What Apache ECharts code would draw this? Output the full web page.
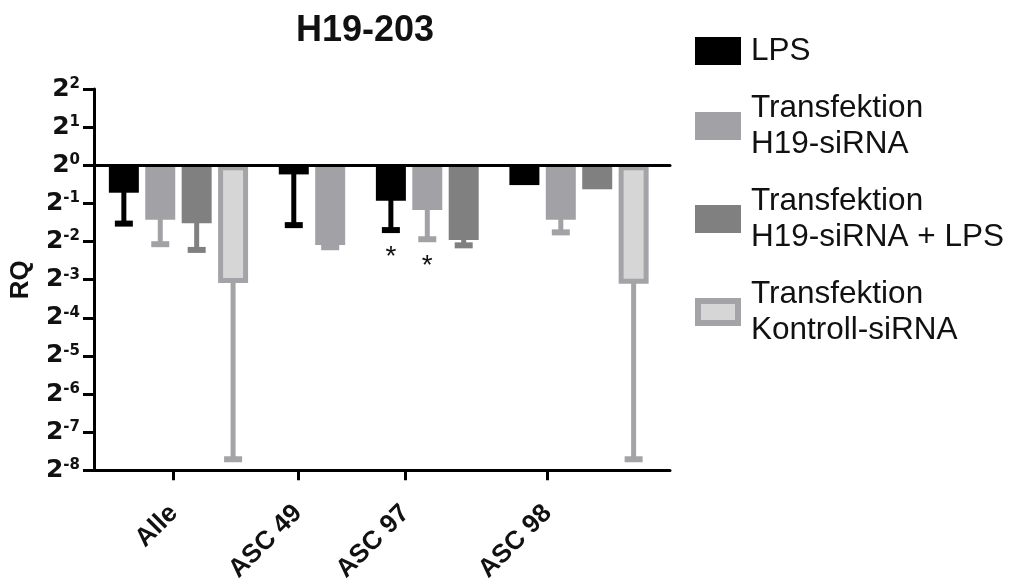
<!DOCTYPE html>
<html><head><meta charset="utf-8">
<script src="https://cdn.jsdelivr.net/npm/echarts@6/dist/echarts.min.js"></script>
<style>html,body{margin:0;padding:0;background:#fff}#c{width:1009px;height:585px}</style>
</head><body><div id="c"></div>
<script>
// ---------- DATA (log2 of RQ) ----------
const categories = ['Alle', 'ASC 49', 'ASC 97', 'ASC 98'];
const seriesNames = ['LPS', 'Transfektion\nH19-siRNA', 'Transfektion\nH19-siRNA + LPS', 'Transfektion\nKontroll-siRNA'];
const lps         = [-0.72, -0.24, -0.93, -0.52];
const h19         = [-1.43, -2.09, -1.17, -1.43];
const h19lps      = [-1.52, null, -1.96, -0.63];
const kontroll    = [-3.09, null, null, -3.11];
// downward error (log2 units)
const lpsErr      = [0.81, 1.33, 0.77, 0];
const h19Err      = [0.64, 0.06, 0.77, 0.33];
const h19lpsErr   = [0.70, null, 0.14, 0];
const kontrollErr = [4.62, null, null, 4.60];
// significance (*)
const lpsSig      = [0, 0, 1, 0];
const h19Sig      = [0, 0, 1, 0];
const h19lpsSig   = [0, 0, 0, 0];
const kontrollSig = [0, 0, 0, 0];
const yTickExponents = [2, 1, 0, -1, -2, -3, -4, -5, -6, -7, -8];

// ---------- LAYOUT / STYLE ----------
const values = [lps, h19, h19lps, kontroll];
const errors = [lpsErr, h19Err, h19lpsErr, kontrollErr];
const sigs = [lpsSig, h19Sig, h19lpsSig, kontrollSig];
const styles = [
  { fill: '#000000', err: '#000000' },
  { fill: '#a2a2a6', err: '#a2a2a6' },
  { fill: '#808080', err: '#808080' },
  { fill: '#d6d6d6', err: '#a4a4a8', stroke: '#a4a4a8', border: 5 }
];
const GROUP_GAP = 0.667;      // extra slot space between groups
const X_MIN = -0.82, X_MAX = 15.0;
const LABEL_POS = [1.37, 4.78, 7.73, 11.64];
const BAR_W = 30;
const FONT = 'Liberation Sans, Arial, sans-serif';
const NUM_FONT = 'DejaVu Sans, Liberation Sans, sans-serif';

// slot positions for each bar (bars of a group are packed side by side)
const positions = values.map(() => []);
let slot = 0;
categories.forEach((c, g) => {
  values.forEach((vals, s) => {
    if (vals[g] != null) { positions[s][g] = slot + g * GROUP_GAP; slot++; }
  });
});

function makeSeries(s) {
  const st = styles[s];
  const data = [];
  categories.forEach((c, g) => {
    if (values[s][g] != null) data.push([positions[s][g], values[s][g], errors[s][g] || 0, sigs[s][g]]);
  });
  return {
    type: 'custom', name: seriesNames[s], xAxisIndex: 0, yAxisIndex: 0,
    itemStyle: { color: st.fill }, encode: { x: 0, y: 1 }, data, z: 2,
    renderItem(params, api) {
      const x = api.value(0), v = api.value(1), e = api.value(2), sg = api.value(3);
      const top = api.coord([x, 0]), bot = api.coord([x, v]);
      const cx = top[0];
      const children = [];
      if (e > 0) {
        const ep = api.coord([x, v - e]);
        children.push({ type: 'line', shape: { x1: cx, y1: bot[1] - 2, x2: cx, y2: ep[1] }, style: { stroke: st.err, lineWidth: 5 } });
        children.push({ type: 'line', shape: { x1: cx - 9, y1: ep[1], x2: cx + 9, y2: ep[1] }, style: { stroke: st.err, lineWidth: 6 } });
        if (sg) children.push({ type: 'text', style: { text: '*', x: cx, y: ep[1] + 27, align: 'center', verticalAlign: 'middle', fontSize: 28, fontFamily: FONT, fill: '#111' } });
      }
      if (st.border) {
        const bw = st.border;
        children.push({ type: 'rect', shape: { x: cx - BAR_W / 2 + bw / 2, y: top[1] + bw / 2, width: BAR_W - bw, height: bot[1] - top[1] - bw }, style: { fill: st.fill, stroke: st.stroke, lineWidth: bw } });
      } else {
        children.push({ type: 'rect', shape: { x: cx - BAR_W / 2, y: top[1], width: BAR_W, height: bot[1] - top[1] }, style: { fill: st.fill } });
      }
      return { type: 'group', children };
    }
  };
}

const chart = echarts.init(document.getElementById('c'), null, { renderer: 'canvas' });
chart.setOption({
  animation: false,
  backgroundColor: '#fff',
  title: { text: 'H19-203', left: 291, top: 8, textStyle: { fontSize: 36, fontWeight: 'bold', fontFamily: FONT, color: '#111' } },
  legend: {
    orient: 'vertical', left: 687, top: 28, itemWidth: 46, itemHeight: 28, itemGap: 21,
    icon: 'rect', selectedMode: false,
    textStyle: { fontSize: 31.5, lineHeight: 36, color: '#111', fontFamily: FONT, padding: [0, 0, 0, 5] },
    data: seriesNames.map((n, i) => i === 3
      ? { name: n, icon: 'path://M0,0M46,28M3,3L43,3L43,25L3,25Z', itemStyle: { color: styles[3].fill, borderColor: styles[3].stroke, borderWidth: 6 } }
      : { name: n })
  },
  grid: { left: 91, right: 339, top: 89, bottom: 114, containLabel: false },
  xAxis: [
    {
      type: 'value', min: X_MIN, max: X_MAX, position: 'bottom',
      axisLine: { show: true, onZero: false, lineStyle: { color: '#000', width: 3 } },
      axisTick: { show: true, customValues: LABEL_POS, length: 10, lineStyle: { color: '#000', width: 3 } },
      axisLabel: {
        customValues: LABEL_POS, rotate: 45, margin: 39, fontSize: 26, fontWeight: 'bold', fontFamily: FONT, color: '#111',
        formatter: v => { const i = LABEL_POS.findIndex(p => Math.abs(p - v) < 1e-6); return i >= 0 ? categories[i] : ''; }
      },
      splitLine: { show: false }
    },
    {
      type: 'value', min: X_MIN, max: X_MAX, position: 'top', z: 5,
      axisLine: { show: true, onZero: true, lineStyle: { color: '#000', width: 3 } },
      axisTick: { show: false }, axisLabel: { show: false }, splitLine: { show: false }
    }
  ],
  yAxis: {
    type: 'value', min: -8, max: 2, interval: 1,
    name: 'RQ', nameLocation: 'middle', nameGap: 60,
    nameTextStyle: { fontSize: 26, fontWeight: 'bold', fontFamily: FONT, color: '#111' },
    axisLine: { show: true, onZero: false, lineStyle: { color: '#000', width: 3 } },
    axisTick: { show: true, length: 11, lineStyle: { color: '#000', width: 3 } },
    axisLabel: {
      margin: 14,
      formatter: v => yTickExponents.includes(v) ? '{b|2}{s|' + v + '}' : '',
      rich: {
        b: { fontSize: 25, fontWeight: 'bold', fontFamily: NUM_FONT, color: '#111' },
        s: { fontSize: 15, fontWeight: 'bold', fontFamily: NUM_FONT, color: '#111', verticalAlign: 'top' }
      }
    },
    splitLine: { show: false }
  },
  series: [0, 1, 2, 3].map(makeSeries)
});
</script></body></html>
